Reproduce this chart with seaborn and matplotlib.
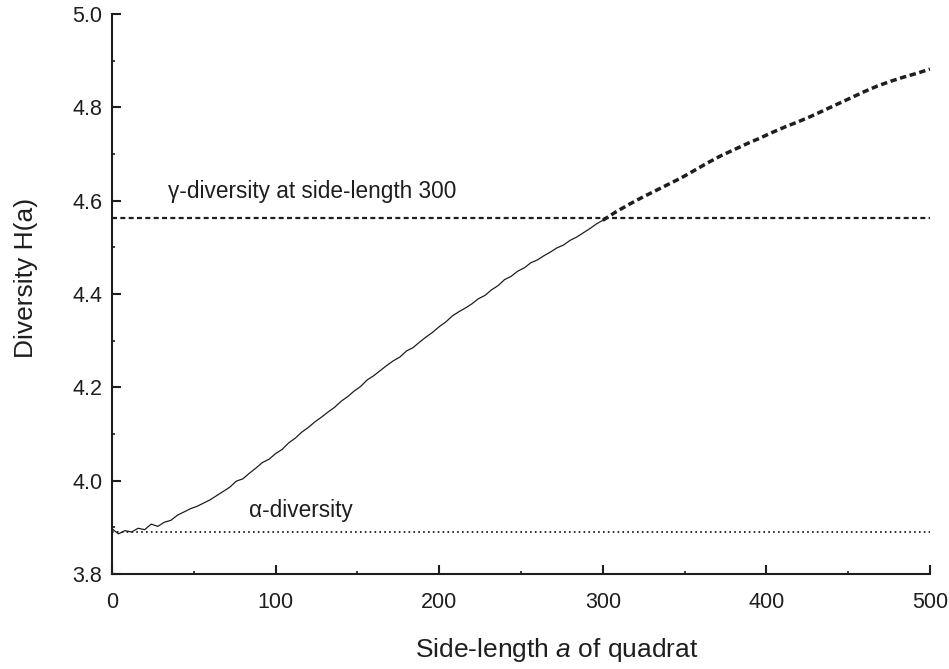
import matplotlib
matplotlib.use("Agg")
import matplotlib.pyplot as plt
from matplotlib.ticker import MultipleLocator
import seaborn as sns
import pandas as pd

# Diversity H(a) as a function of quadrat side-length a
side_measured = [0, 4, 8, 12, 16, 20, 24, 28, 32, 36, 40, 44, 48, 52, 56, 60,
                 64, 68, 72, 76, 80, 84, 88, 92, 96, 100, 104, 108, 112, 116,
                 120, 124, 128, 132, 136, 140, 144, 148, 152, 156, 160, 164,
                 168, 172, 176, 180, 184, 188, 192, 196, 200, 204, 208, 212,
                 216, 220, 224, 228, 232, 236, 240, 244, 248, 252, 256, 260,
                 264, 268, 272, 276, 280, 284, 288, 292, 296, 300]
diversity_measured = [3.897, 3.886, 3.893, 3.890, 3.898, 3.895, 3.907, 3.902,
                      3.911, 3.915, 3.926, 3.933, 3.940, 3.945, 3.952, 3.959,
                      3.968, 3.977, 3.986, 3.999, 4.004, 4.016, 4.027, 4.039,
                      4.046, 4.058, 4.067, 4.081, 4.091, 4.104, 4.114, 4.126,
                      4.136, 4.147, 4.157, 4.170, 4.180, 4.192, 4.202, 4.216,
                      4.225, 4.236, 4.247, 4.257, 4.265, 4.278, 4.285, 4.297,
                      4.308, 4.318, 4.330, 4.340, 4.353, 4.362, 4.370, 4.379,
                      4.390, 4.397, 4.409, 4.418, 4.431, 4.438, 4.449, 4.456,
                      4.467, 4.473, 4.482, 4.490, 4.499, 4.505, 4.515, 4.522,
                      4.531, 4.540, 4.550, 4.558]

# Continuation beyond side-length 300
side_extended = [300, 308, 316, 324, 332, 340, 348, 356, 364, 372, 380, 388,
                 396, 404, 412, 420, 428, 436, 444, 452, 460, 468, 476, 484,
                 492, 500]
diversity_extended = [4.558, 4.576, 4.592, 4.607, 4.621, 4.635, 4.649, 4.665,
                      4.681, 4.696, 4.709, 4.722, 4.734, 4.747, 4.759, 4.770,
                      4.782, 4.795, 4.808, 4.821, 4.834, 4.846, 4.856, 4.865,
                      4.873, 4.882]

gamma_diversity = 4.562
alpha_diversity = 3.890
reference_span = [0, 500]

x_ticks = [0, 100, 200, 300, 400, 500]
y_ticks = [3.8, 4.0, 4.2, 4.4, 4.6, 4.8, 5.0]

sns.set_theme(style="ticks")
plt.rcParams["font.family"] = ["Liberation Sans", "DejaVu Sans"]
plt.rcParams["mathtext.fontset"] = "custom"
plt.rcParams["mathtext.it"] = "Liberation Sans:italic"
plt.rcParams["mathtext.rm"] = "Liberation Sans"
plt.rcParams["lines.scale_dashes"] = False

ink = "#1e1e1e"
fig = plt.figure(figsize=(9.49, 6.69), dpi=100)
ax = fig.add_axes([0.118, 0.142, 0.862, 0.837])

measured = pd.DataFrame({"a": side_measured, "H": diversity_measured})
extended = pd.DataFrame({"a": side_extended, "H": diversity_extended})
gamma_df = pd.DataFrame({"a": reference_span, "H": [gamma_diversity] * 2})
alpha_df = pd.DataFrame({"a": reference_span, "H": [alpha_diversity] * 2})

sns.lineplot(data=gamma_df, x="a", y="H", ax=ax, color=ink, lw=1.6,
             linestyle=(0, (3.6, 2.4)))
sns.lineplot(data=alpha_df, x="a", y="H", ax=ax, color=ink, lw=1.3,
             linestyle=(0, (1.2, 2.3)))
sns.lineplot(data=measured, x="a", y="H", ax=ax, color=ink, lw=0.9)
sns.lineplot(data=extended, x="a", y="H", ax=ax, color=ink, lw=2.5,
             linestyle=(0, (4.6, 2.6)))

ax.text(34, 4.606, "\u03b3-diversity at side-length 300", fontsize=16.3,
        color=ink, ha="left", va="baseline")
ax.text(84, 3.922, "\u03b1-diversity", fontsize=16.3, color=ink,
        ha="left", va="baseline")

ax.set_xlim(0, 500)
ax.set_ylim(3.8, 5.0)
ax.set_xticks(x_ticks)
ax.set_yticks(y_ticks)
ax.set_xticklabels([str(v) for v in x_ticks])
ax.set_yticklabels([f"{v:.1f}" for v in y_ticks])
ax.xaxis.set_minor_locator(MultipleLocator(50))
ax.yaxis.set_minor_locator(MultipleLocator(0.1))

ax.tick_params(which="major", direction="in", length=6.5, width=1.5,
               color=ink, labelsize=15.5, labelcolor=ink)
ax.tick_params(axis="x", which="major", pad=13)
ax.tick_params(axis="y", which="major", pad=7)
ax.tick_params(which="minor", direction="in", length=2.3, width=1.2,
               color=ink)

for side in ("top", "right"):
    ax.spines[side].set_visible(False)
for side in ("left", "bottom"):
    ax.spines[side].set_linewidth(1.5)
    ax.spines[side].set_color(ink)

ax.set_xlabel("Side-length $\\it{a}$ of quadrat", fontsize=19, color=ink)
ax.set_ylabel("Diversity H(a)", fontsize=19, color=ink)
ax.xaxis.set_label_coords(0.543, -0.111)
ax.yaxis.set_label_coords(-0.09, 0.528)

fig.savefig("out.png", dpi=100)
